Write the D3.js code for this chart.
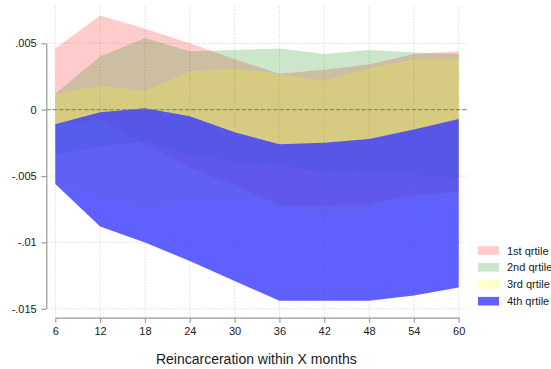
<!DOCTYPE html>
<html>
<head>
<meta charset="utf-8">
<script src="https://cdn.jsdelivr.net/npm/d3@7"></script>
<style>
  html, body { margin: 0; padding: 0; background: #fff; }
  svg { display: block; font-family: "Liberation Sans", Arial, Helvetica, sans-serif; }
</style>
</head>
<body>
<svg id="chart" width="551" height="369"></svg>
<script>
// Months after release
const months = [6, 12, 18, 24, 30, 36, 42, 48, 54, 60];

// Confidence bands by quartile
const q1Upper = [0.0046, 0.0071, 0.0061, 0.0050, 0.0038, 0.0027, 0.0030, 0.0034, 0.0042, 0.0044];
const q1Lower = [-0.0012, -0.0007, -0.0026, -0.0044, -0.0057, -0.0072, -0.0072, -0.0071, -0.0064, -0.0062];
const q2Upper = [0.0012, 0.0040, 0.0054, 0.0044, 0.0045, 0.0046, 0.0042, 0.0045, 0.0043, 0.0042];
const q2Lower = [-0.0034, -0.0028, -0.0024, -0.0034, -0.0039, -0.0042, -0.0047, -0.0047, -0.0049, -0.0051];
const q3Upper = [0.0012, 0.0018, 0.0014, 0.0029, 0.0031, 0.0027, 0.0022, 0.0031, 0.0038, 0.0038];
const q3Lower = [-0.0057, -0.0065, -0.0076, -0.0069, -0.0068, -0.0074, -0.0079, -0.0077, -0.0066, -0.0065];
const q4Upper = [-0.0011, -0.0002, 0.0001, -0.0005, -0.0017, -0.0026, -0.0025, -0.0022, -0.0015, -0.0007];
const q4Lower = [-0.0056, -0.0088, -0.0100, -0.0114, -0.0129, -0.0144, -0.0144, -0.0144, -0.0140, -0.0134];

const seriesNames = ["1st qrtile", "2nd qrtile", "3rd qrtile", "4th qrtile"];
const yTicks = [0.005, 0, -0.005, -0.01, -0.015];
const yTickLabels = [".005", "0", "-.005", "-.01", "-.015"];
const xTitle = "Reincarceration within X months";

const bands = [
  { name: seriesNames[0], upper: q1Upper, lower: q1Lower, color: "rgb(255,0,0)", opacity: 0.2 },
  { name: seriesNames[1], upper: q2Upper, lower: q2Lower, color: "rgb(0,128,0)", opacity: 0.2 },
  { name: seriesNames[2], upper: q3Upper, lower: q3Lower, color: "rgb(255,255,0)", opacity: 0.21 },
  { name: seriesNames[3], upper: q4Upper, lower: q4Lower, color: "rgb(56,56,255)", opacity: 0.8 }
];

const svg = d3.select("#chart");

const x = d3.scaleLinear().domain([6, 60]).range([55.3, 458.7]);
const y = d3.scaleLinear().domain([-0.015, 0.005]).range([308.8, 43.3]);

const plotLeft = 46.3, plotRight = 468, plotTop = 6.7, plotBottom = 317.7;

// Grid
const grid = svg.append("g");
grid.selectAll("line.vg").data(months).join("line")
  .attr("x1", d => x(d)).attr("x2", d => x(d))
  .attr("y1", plotTop).attr("y2", plotBottom)
  .attr("stroke", "#cfcfcf").attr("stroke-width", 1)
  .attr("stroke-dasharray", "1,2");
grid.selectAll("line.hg").data(yTicks.filter(d => d !== 0)).join("line")
  .attr("x1", plotLeft).attr("x2", plotRight)
  .attr("y1", d => y(d)).attr("y2", d => y(d))
  .attr("stroke", "#cfcfcf").attr("stroke-width", 1)
  .attr("stroke-dasharray", "1,2");

// Range areas
const area = d3.area()
  .x((d, i) => x(months[i]))
  .y0(d => y(d[0]))
  .y1(d => y(d[1]));

svg.append("g").selectAll("path").data(bands).join("path")
  .attr("d", b => area(b.lower.map((v, i) => [v, b.upper[i]])))
  .attr("fill", b => b.color)
  .attr("fill-opacity", b => b.opacity);

// Reference line at zero
svg.append("line")
  .attr("x1", plotLeft).attr("x2", plotRight)
  .attr("y1", y(0)).attr("y2", y(0))
  .attr("stroke", "#7a7a7a").attr("stroke-opacity", 0.8)
  .attr("stroke-width", 1.2).attr("stroke-dasharray", "4.5,1.8");

// Axes
const yAxis = d3.axisLeft(y)
  .tickValues(yTicks)
  .tickFormat((d, i) => yTickLabels[i])
  .tickSize(5).tickSizeOuter(0).tickPadding(4.6);
const gy = svg.append("g").attr("transform", `translate(${plotLeft},0)`).call(yAxis);

const xAxis = d3.axisBottom(x)
  .tickValues(months)
  .tickFormat(d3.format("d"))
  .tickSize(5).tickSizeOuter(0).tickPadding(5);
const gx = svg.append("g").attr("transform", `translate(0,${plotBottom})`).call(xAxis);

[gx, gy].forEach(g => {
  g.select(".domain").attr("stroke", "#9a9a9a").attr("stroke-width", 1.2);
  g.selectAll(".tick line").attr("stroke", "#9a9a9a").attr("stroke-width", 1.2);
  g.selectAll(".tick text")
    .attr("fill", "#1a1a1a")
    .style("font-size", "11px")
    .style("font-family", "\"Liberation Sans\", Arial, sans-serif");
});

// Axis title
svg.append("text")
  .attr("x", 256.3).attr("y", 364)
  .attr("text-anchor", "middle")
  .attr("fill", "#1a1a1a")
  .style("font-size", "14px")
  .text(xTitle);

// Legend
const legend = svg.append("g");
const rowY = d3.scaleLinear().domain([0, 3]).range([250.5, 301.2]);
bands.forEach((b, i) => {
  legend.append("rect")
    .attr("x", 478).attr("y", rowY(i) - 4.3)
    .attr("width", 21).attr("height", 8.6)
    .attr("fill", b.color).attr("fill-opacity", b.opacity);
  legend.append("text")
    .attr("x", 507).attr("y", rowY(i) + 4)
    .attr("fill", "#1a1a1a")
    .style("font-size", "11px")
    .text(b.name);
});
</script>
</body>
</html>
